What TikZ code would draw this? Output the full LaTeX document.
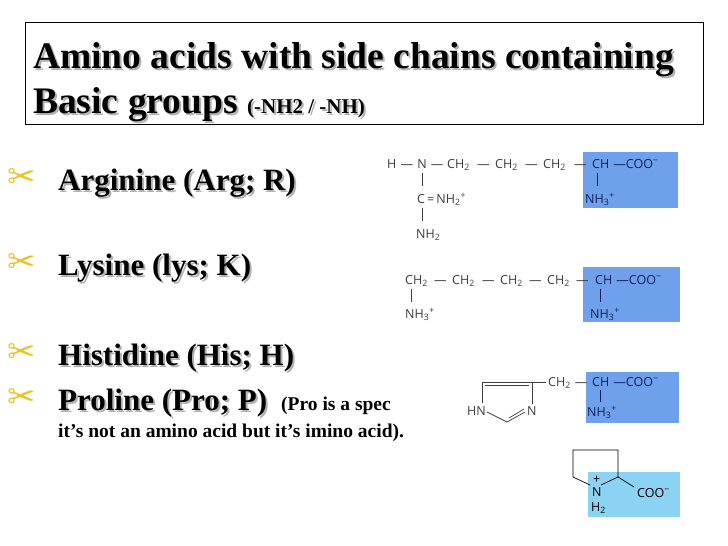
\documentclass[tikz,border=0pt]{standalone}
\usepackage{fontspec}
\setmainfont{Liberation Serif}
\newfontfamily\chemf{Open Sans}
\newfontfamily\dingf{DejaVu Sans}
\definecolor{boxblue}{RGB}{110,160,235}
\definecolor{lightblue}{RGB}{140,210,242}
\definecolor{gold}{RGB}{235,195,40}
\definecolor{chemtxt}{RGB}{60,60,60}
\definecolor{bluetxt}{RGB}{20,30,90}
\begin{document}
\begin{tikzpicture}[x=1pt,y=-1pt,
  chem/.style={font=\chemf\fontsize{12.5}{13}\selectfont,text=chemtxt,inner sep=0pt,anchor=base west},
  chemb/.style={chem,text=bluetxt},
  bond/.style={draw=chemtxt,line width=0.7pt},
  bbond/.style={draw=bluetxt,line width=0.8pt},
  bul/.style={font=\dingf\fontsize{34}{34}\selectfont,text=gold,inner sep=0pt,anchor=base west},
  big/.style={font=\bfseries\fontsize{31}{33}\selectfont,inner sep=0pt,anchor=base west},
  ttl/.style={font=\bfseries\fontsize{37.5}{40}\selectfont,inner sep=0pt,anchor=base west},
  sml/.style={font=\bfseries\fontsize{19.5}{21}\selectfont,inner sep=0pt,anchor=base west}]
\useasboundingbox (0,0) rectangle (728,546);
\fill[white] (0,0) rectangle (728,546);
% title
\node[draw=black,line width=0.6pt,minimum width=678,minimum height=102,anchor=north west,inner sep=0pt] (tbox) at (25,22) {};
\node[ttl,text=gray!60] (t1s) at (35,70) {Amino acids with side chains containing};
\node[ttl] (t1) at (33,68) {Amino acids with side chains containing};
\node[ttl,text=gray!60] (t2s) at (35,115) {Basic groups \fontsize{21}{22}\selectfont(-NH2 / -NH)};
\node[ttl] (t2) at (33,113) {Basic groups \fontsize{21}{22}\selectfont(-NH2 / -NH)};
% bullets
\foreach \y/\t/\n in {190/{Arginine (Arg; R)}/a,275/{Lysine (lys; K)}/b,365/{Histidine (His; H)}/c,410/{Proline (Pro; P)}/d}{
  \node[bul] (s\n) at (7,\y-2) {✂};
  \node[big,text=gray!60] (g\n) at (60,\y+2) {\t};
  \node[big] (l\n) at (58,\y) {\t};
}
\node[sml] (pn) at (281,410) {(Pro is a spe\rlap{c}};
\node[sml] (pn2) at (58,437) {it’s not an amino acid but it’s imino aci\rlap{d).}};
% Arginine
\fill[boxblue] (583,152) rectangle (678,208);
\node[chem] (a0) at (387,168) {H\,\,—\,\,N\,\,—};
\foreach \x/\n in {447/1,495/2,543/3}{
  \node[chem] (ach\n) at (\x,168) {CH\textsubscript{2}};
}
\node[chem] (ad1) at (477,168) {—};
\node[chem] (ad2) at (525,168) {—};
\node[chem] (ad3) at (574,168) {—};
\node[chemb] (a2) at (592,168) {CH\,\,—COO\textsuperscript{−}};
\node[chem] (a3) at (417,203) {C\,=\,NH\textsubscript{2}\textsuperscript{+}};
\node[chem] (a4) at (416,238) {NH\textsubscript{2}};
\node[chemb] (a5) at (585,203) {NH\textsubscript{3}\textsuperscript{+}};
\draw[bond] (422,173) -- (422,186);
\draw[bond] (422,208) -- (422,221);
\draw[bbond] (597,173) -- (597,186);
% Lysine
\fill[boxblue] (583,267) rectangle (680,322);
\foreach \x/\n in {405/1,452/2,500/3,547/4}{
  \node[chem] (bch\n) at (\x,284) {CH\textsubscript{2}};
}
\node[chem] (bd1) at (434,284) {—};
\node[chem] (bd2) at (482,284) {—};
\node[chem] (bd3) at (529,284) {—};
\node[chem] (bd4) at (576,284) {—};
\node[chemb] (b2) at (595,284) {CH\,\,—COO\textsuperscript{−}};
\node[chem] (b3) at (405,318) {NH\textsubscript{3}\textsuperscript{+}};
\node[chemb] (b5) at (590,318) {NH\textsubscript{3}\textsuperscript{+}};
\draw[bond] (411,289) -- (411,302);
\draw[bbond] (600,289) -- (600,302);
% Histidine
\fill[boxblue] (586,372) rectangle (679,423);
\node[chem] (c1) at (467,415) {HN};
\node[chem] (c2) at (527,415) {N};
\node[chem] (c3) at (548,386) {CH\textsubscript{2}\,\,—};
\node[chemb] (c4) at (592,386) {CH\,\,—COO\textsuperscript{−}};
\node[chemb] (c5) at (587,416) {NH\textsubscript{3}\textsuperscript{+}};
\draw[bond] (482,403) -- (482,382) -- (532,382) -- (532,404);
\draw[bond] (485,385) -- (529,385);
\draw[bond] (532,382) -- (546,382);
\draw[bond] (487,412) -- (507,422) -- (525,412);
\draw[bond] (509,418) -- (524,409);
\draw[bbond] (600,390) -- (600,402);
% Proline
\fill[lightblue] (588,472) rectangle (680,517);
\draw[bond,draw=black] (590,485) -- (573,477) -- (573,450) -- (618,450) -- (618,477) -- (601,485);
\draw[bond,draw=black] (618,477) -- (634,487);
\node[chem,text=black] (d1) at (592,496) {N};
\node[chem,text=black] (d2) at (593,483) {+};
\node[chem,text=black] (d3) at (591,511) {H\textsubscript{2}};
\node[chem,text=black] (d4) at (637,497) {COO\textsuperscript{−}};
\end{tikzpicture}
\end{document}
